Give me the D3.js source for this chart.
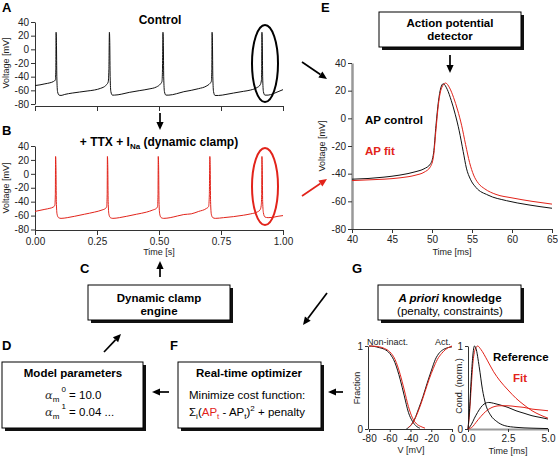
<!DOCTYPE html>
<html><head><meta charset="utf-8">
<script src="https://cdn.jsdelivr.net/npm/d3@7"></script>
<style>
html,body{margin:0;padding:0;background:#fff;}
svg{font-family:"Liberation Sans",Arial,Helvetica,sans-serif;}
</style></head>
<body>
<svg id="fig" width="558" height="458"></svg>
<script>
// ---------- DATA ----------
const timeTicksS = [0, 0.25, 0.5, 0.75, 1.0];
const voltTicks = [40, 20, 0, -20, -40, -60, -80];
const apTimeTicks = [40, 45, 50, 55, 60, 65];
const fracVTicks = [-80, -60, -40, -20, 0];
const fracTicks = [0, 1];
const condTimeTicks = [0, 2.5, 5];

// Panel A: control recording (time s, voltage mV)
const traceControl = [[0,-53],[0.02,-52],[0.04,-50.5],[0.06,-49],[0.075,-47],[0.082,-45],[0.084,-30],[0.085,25],[0.0865,10],[0.088,-40],[0.091,-62],[0.097,-67],[0.105,-67.5],[0.12,-66],[0.15,-64],[0.18,-62.5],[0.21,-61],[0.24,-59.5],[0.265,-57],[0.285,-53],[0.295,-48],[0.298,-30],[0.300,25],[0.3015,10],[0.303,-40],[0.306,-62],[0.312,-67],[0.32,-67],[0.35,-65.5],[0.38,-63],[0.42,-60.5],[0.46,-58],[0.49,-55],[0.505,-51],[0.512,-47],[0.514,-30],[0.516,25],[0.5175,10],[0.519,-40],[0.522,-62],[0.528,-67],[0.54,-67],[0.57,-65],[0.6,-62],[0.63,-60],[0.66,-57.5],[0.69,-54],[0.705,-50],[0.711,-47],[0.713,-30],[0.714,25],[0.7155,10],[0.717,-40],[0.72,-62],[0.726,-67.5],[0.74,-67.5],[0.77,-66],[0.8,-64],[0.84,-61.5],[0.87,-59.5],[0.895,-56],[0.908,-52],[0.913,-45],[0.914,-30],[0.915,25],[0.9165,10],[0.918,-40],[0.921,-62],[0.927,-67],[0.94,-67],[0.96,-65],[0.98,-62],[1.0,-59]];

// Panel B: TTX + dynamic clamp INa
const traceDynClamp = [[0,-54],[0.02,-52.5],[0.04,-51],[0.06,-49.5],[0.075,-47.5],[0.080,-45],[0.082,-30],[0.083,25],[0.0845,10],[0.086,-40],[0.089,-58],[0.095,-63],[0.105,-64],[0.13,-63],[0.16,-61],[0.2,-58],[0.24,-55],[0.27,-52],[0.285,-49.5],[0.289,-47],[0.291,-30],[0.292,25],[0.2935,10],[0.295,-40],[0.298,-58],[0.304,-63],[0.314,-64],[0.34,-63],[0.37,-61],[0.41,-58],[0.45,-55],[0.475,-52],[0.49,-49.5],[0.494,-47],[0.496,-30],[0.497,25],[0.4985,10],[0.500,-40],[0.503,-58],[0.509,-63],[0.519,-64],[0.545,-63],[0.575,-60.5],[0.6,-58.5],[0.63,-57.5],[0.66,-54],[0.69,-50],[0.700,-47],[0.703,-30],[0.705,25],[0.7065,10],[0.708,-40],[0.711,-58],[0.717,-63],[0.727,-64],[0.76,-63],[0.8,-61.5],[0.84,-59.5],[0.87,-57.5],[0.895,-55],[0.907,-52],[0.912,-46],[0.914,-30],[0.915,25],[0.9165,10],[0.918,-40],[0.921,-56],[0.927,-62],[0.94,-63],[0.96,-62.5],[0.98,-61],[1.0,-60]];

// Panel E: single action potentials (time ms, voltage mV)
const apControl = [[40,-44],[42,-43.5],[44,-42.5],[46,-41],[48,-38.5],[49,-36.5],[49.8,-33],[50.2,-25],[50.5,-5],[50.8,12],[51.1,22],[51.4,25],[51.9,21],[52.4,13],[52.9,3],[53.4,-9],[53.9,-24],[54.3,-36],[54.8,-44],[55.5,-50],[57,-55.5],[59.3,-59.5],[62,-62.5],[65,-65]];
const apFit = [[40,-45],[42,-44.5],[44,-44],[46,-43],[48,-41],[49,-39],[49.8,-35],[50.2,-27],[50.5,-8],[50.8,10],[51.2,22],[51.7,25.5],[52.2,22],[52.7,15],[53.2,6],[53.7,-5],[54.2,-19],[54.7,-32],[55.2,-41],[55.8,-47],[56.6,-51],[58,-55],[60,-57.5],[62.5,-60],[65,-62]];

// Panel G: steady-state curves (V mV, fraction)
const nonInactRef = [[-80,1],[-75,0.995],[-70,0.98],[-65,0.96],[-60,0.91],[-55,0.8],[-50,0.6],[-46,0.4],[-42,0.2],[-38,0.09],[-34,0.03],[-31,0.01]];
const nonInactFit = [[-80,1],[-75,0.997],[-70,0.99],[-65,0.97],[-60,0.93],[-55,0.84],[-50,0.66],[-46,0.47],[-42,0.27],[-38,0.13],[-34,0.06],[-30,0.03],[-26,0.01]];
const actRef = [[-44,0],[-40,0.04],[-36,0.12],[-32,0.25],[-28,0.39],[-24,0.55],[-20,0.7],[-16,0.84],[-12,0.92],[-8,0.96],[-4,0.98],[0,0.99]];
const actFit = [[-42,0.02],[-38,0.07],[-34,0.17],[-30,0.3],[-26,0.45],[-22,0.6],[-18,0.73],[-14,0.84],[-10,0.91],[-6,0.96],[-2,0.99],[0,1.0]];

// Panel G: normalized conductance time courses (ms, norm.)
const condRefFast = [[0,0],[0.1,0.25],[0.2,0.6],[0.3,0.88],[0.4,1.0],[0.5,0.97],[0.7,0.75],[0.9,0.48],[1.1,0.3],[1.4,0.17],[1.8,0.09],[2.3,0.04],[3,0.02],[4,0.01],[5,0.005]];
const condFitFast = [[0,0],[0.1,0.2],[0.2,0.5],[0.3,0.78],[0.45,0.96],[0.6,1.0],[0.8,0.96],[1.2,0.83],[1.6,0.69],[2.0,0.58],[2.5,0.47],[3,0.37],[3.5,0.29],[4,0.22],[4.5,0.17],[5,0.13]];
const condRefSlow = [[0,0],[0.2,0.05],[0.4,0.13],[0.6,0.2],[0.8,0.26],[1.0,0.3],[1.3,0.32],[1.6,0.31],[2,0.29],[2.5,0.26],[3,0.22],[3.5,0.19],[4,0.16],[4.5,0.14],[5,0.12]];
const condFitSlow = [[0,0],[0.3,0.03],[0.5,0.08],[0.8,0.15],[1.1,0.21],[1.5,0.26],[2.0,0.28],[2.5,0.28],[3,0.27],[3.5,0.26],[4,0.24],[4.5,0.23],[5,0.22]];

// ---------- DRAWING ----------
const RED = "#e2231a";
const svg = d3.select("#fig");
const hyph = f => (d => f(d).replace("\u2212","-"));

const xA = d3.scaleLinear([0,1],[35,283]);
const yA = d3.scaleLinear([-80,40],[104,22]);
const yB = d3.scaleLinear([-80,40],[229.5,146]);
const xE = d3.scaleLinear([40,65],[352,552]);
const yE = d3.scaleLinear([-80,40],[229,63]);
const xFr = d3.scaleLinear([-80,0],[369,452]);
const yFr = d3.scaleLinear([0,1],[429,346]);
const xCo = d3.scaleLinear([0,5],[468,548]);
const yCo = d3.scaleLinear([0,1],[429,346]);

function styleAxis(g, fs){
  g.selectAll("path.domain").attr("stroke","#333").attr("stroke-width",1);
  g.selectAll(".tick line").attr("stroke","#333");
  g.selectAll(".tick text").attr("fill","#222").attr("font-size",fs||10).attr("font-family","Liberation Sans, Arial, sans-serif");
}
function line(x,y,curve){
  return d3.line().x(d=>x(d[0])).y(d=>y(d[1])).curve(curve||d3.curveMonotoneX);
}
function drawPath(data,x,y,color,w){
  svg.append("path").datum(data).attr("d",line(x,y)).attr("fill","none")
    .attr("stroke",color).attr("stroke-width",w||1).attr("stroke-linejoin","round");
}
function text(x,y,s,opt){
  opt=opt||{};
  const t=svg.append("text").attr("x",x).attr("y",y).text(s)
    .attr("font-size",opt.size||11).attr("fill",opt.fill||"#000")
    .attr("font-weight",opt.bold?"bold":"normal")
    .attr("text-anchor",opt.anchor||"start");
  if(opt.italic) t.attr("font-style","italic");
  if(opt.rotate) t.attr("transform",`rotate(-90,${x},${y})`);
  return t;
}
function arrow(x1,y1,x2,y2,color){
  color=color||"#000";
  const ang=Math.atan2(y2-y1,x2-x1), L=8, Wd=3.6;
  const bx=x2-L*Math.cos(ang), by=y2-L*Math.sin(ang);
  svg.append("line").attr("x1",x1).attr("y1",y1).attr("x2",bx).attr("y2",by)
    .attr("stroke",color).attr("stroke-width",1.7);
  const px=-Math.sin(ang)*Wd, py=Math.cos(ang)*Wd;
  svg.append("polygon").attr("points",`${x2},${y2} ${bx+px},${by+py} ${bx-px},${by-py}`).attr("fill",color);
}
function box(x,y,w,h){
  svg.append("rect").attr("x",x+3).attr("y",y+3).attr("width",w).attr("height",h).attr("fill","#111");
  svg.append("rect").attr("x",x).attr("y",y).attr("width",w).attr("height",h).attr("fill","#fff").attr("stroke","#000").attr("stroke-width",1);
}

// Panel letters
[["A",2,12],["B",2,135],["C",80,273],["D",2,350],["E",321,12],["F",170,350],["G",352,273]].forEach(d=>text(d[1],d[2],d[0],{bold:true,size:13}));

// ----- Panel A -----
svg.append("g").attr("transform","translate(35,0)").call(d3.axisLeft(yA).tickValues(voltTicks).tickFormat(hyph(d3.format("d"))).tickSize(4).tickSizeOuter(0).tickPadding(2)).call(styleAxis);
svg.append("g").attr("transform","translate(0,106)").call(d3.axisBottom(xA).tickValues(timeTicksS).tickFormat("").tickSize(5).tickSizeOuter(0)).call(styleAxis);
drawPath(traceControl,xA,yA,"#111",1);
text(9,63,"Voltage [mV]",{size:9,anchor:"middle",rotate:true,fill:"#222"});
text(160,24,"Control",{bold:true,size:12,anchor:"middle"});
svg.append("ellipse").attr("cx",265).attr("cy",63.5).attr("rx",13).attr("ry",38.5).attr("fill","none").attr("stroke","#000").attr("stroke-width",2);
arrow(160,113,160,130);

// ----- Panel B -----
svg.append("g").attr("transform","translate(35,0)").call(d3.axisLeft(yB).tickValues(voltTicks).tickFormat(hyph(d3.format("d"))).tickSize(4).tickSizeOuter(0).tickPadding(2)).call(styleAxis);
svg.append("g").attr("transform","translate(0,230)").call(d3.axisBottom(xA).tickValues(timeTicksS).tickFormat(d3.format(".2f")).tickSize(5).tickSizeOuter(0).tickPadding(3)).call(styleAxis);
drawPath(traceDynClamp,xA,yB,RED,1);
text(9,188,"Voltage [mV]",{size:9,anchor:"middle",rotate:true,fill:"#222"});
text(159,255,"Time [s]",{size:9,anchor:"middle",fill:"#222"});
{
  const t=svg.append("text").attr("x",159).attr("y",146).attr("text-anchor","middle").attr("font-size",12).attr("font-weight","bold");
  t.append("tspan").text("+ TTX + I");
  t.append("tspan").attr("dy",3).attr("font-size",8).text("Na");
  t.append("tspan").attr("dy",-3).text(" (dynamic clamp)");
}
svg.append("ellipse").attr("cx",265).attr("cy",186.5).attr("rx",13).attr("ry",38.5).attr("fill","none").attr("stroke",RED).attr("stroke-width",2);

// ----- Panel E -----
box(379,12,142,35);
text(450,27,"Action potential",{bold:true,size:11.5,anchor:"middle"});
text(450,40,"detector",{bold:true,size:11.5,anchor:"middle"});
arrow(450,55,450,73);
{
  const gy=svg.append("g").attr("transform","translate(352,0)").call(d3.axisLeft(yE).tickValues(voltTicks).tickFormat(hyph(d3.format("d"))).tickSize(4).tickSizeOuter(0).tickPadding(2)).call(styleAxis);
  gy.select("path.domain").attr("stroke","#999").attr("stroke-width",2.5);
  svg.append("g").attr("transform","translate(0,229)").call(d3.axisBottom(xE).tickValues(apTimeTicks).tickSize(4).tickSizeOuter(0).tickPadding(3)).call(styleAxis);
}
drawPath(apControl,xE,yE,"#111",1);
drawPath(apFit,xE,yE,RED,1);
text(325,146,"Voltage [mV]",{size:9,anchor:"middle",rotate:true,fill:"#222"});
text(452,255,"Time [ms]",{size:9,anchor:"middle",fill:"#222"});
text(365,124,"AP control",{bold:true,size:11.5});
text(365,155,"AP fit",{bold:true,size:11.5,fill:RED});
arrow(302,62,327,79,"#000");
arrow(302,196,327,179,RED);

// ----- Panel C -----
arrow(160,277,160,261);
box(88,285,142,35);
text(159,302,"Dynamic clamp",{bold:true,size:11.5,anchor:"middle"});
text(159,315,"engine",{bold:true,size:11.5,anchor:"middle"});

// ----- Panel G box -----
box(378,285,143,35);
{
  const t=svg.append("text").attr("x",450).attr("y",302).attr("text-anchor","middle").attr("font-size",11.5).attr("font-weight","bold");
  t.append("tspan").attr("font-style","italic").text("A priori");
  t.append("tspan").text(" knowledge");
}
text(450,315,"(penalty, constraints)",{size:11.5,anchor:"middle"});
arrow(327,293,303,325);

// ----- Panel D -----
arrow(104,352,121,334);
box(2,362,141,66);
text(73,377,"Model parameters",{bold:true,size:11.5,anchor:"middle"});
function alphaLine(y,sup,rest){
  const t=svg.append("text").attr("x",45).attr("y",y).attr("font-size",11.5);
  t.append("tspan").attr("font-family","DejaVu Serif, serif").attr("font-style","italic").attr("fill","#333").text("α");
  t.append("tspan").attr("dy",3).attr("font-size",8).text("m");
  t.append("tspan").attr("dy",-10).attr("dx",2).attr("font-size",8).text(sup);
  t.append("tspan").attr("dy",7).text(rest);
}
alphaLine(399,"0"," = 10.0");
alphaLine(416,"1"," = 0.04 ...");
arrow(169,392,152,392);

// ----- Panel F -----
box(178,362,143,66);
text(249,377,"Real-time optimizer",{bold:true,size:11.5,anchor:"middle"});
text(189,399,"Minimize cost function:",{size:11.5});
{
  const t=svg.append("text").attr("x",189).attr("y",416).attr("font-size",11.5);
  t.append("tspan").text("Σ");
  t.append("tspan").attr("dy",3).attr("font-size",8).text("i");
  t.append("tspan").attr("dy",-3).text("(");
  t.append("tspan").attr("fill",RED).text("AP");
  t.append("tspan").attr("dy",3).attr("font-size",8).attr("fill",RED).text("t");
  t.append("tspan").attr("dy",-3).text(" - AP");
  t.append("tspan").attr("dy",3).attr("font-size",8).text("t");
  t.append("tspan").attr("dy",-3).text(")");
  t.append("tspan").attr("dy",-5).attr("font-size",8).text("2");
  t.append("tspan").attr("dy",5).text(" + penalty");
}
arrow(343,392,328,392);

// ----- Panel G graphs -----
svg.append("g").attr("transform","translate(368,0)").call(d3.axisLeft(yFr).tickValues(fracTicks).tickFormat(d3.format("d")).tickSize(3).tickSizeOuter(0).tickPadding(2)).call(styleAxis);
svg.append("g").attr("transform","translate(0,429)").call(d3.axisBottom(xFr).tickValues(fracVTicks).tickFormat(hyph(d3.format("d"))).tickSize(3).tickSizeOuter(0).tickPadding(3)).call(styleAxis);
drawPath(nonInactRef,xFr,yFr,"#111",1);
drawPath(nonInactFit,xFr,yFr,RED,1);
drawPath(actRef,xFr,yFr,"#111",1);
drawPath(actFit,xFr,yFr,RED,1);
text(360,388,"Fraction",{size:9,anchor:"middle",rotate:true,fill:"#222"});
text(411,453,"V [mV]",{size:9,anchor:"middle",fill:"#222"});
text(367,345,"Non-inact.",{size:9,fill:"#222"});
text(435,345,"Act.",{size:9,fill:"#222"});

{
  svg.append("g").attr("transform","translate(468,0)").call(d3.axisLeft(yCo).tickValues(fracTicks).tickFormat(d3.format("d")).tickSize(3).tickSizeOuter(0).tickPadding(2)).call(styleAxis);
  const gx=svg.append("g").attr("transform","translate(0,429)").call(d3.axisBottom(xCo).tickValues(condTimeTicks).tickFormat(d3.format(".1f")).tickSize(3).tickSizeOuter(0).tickPadding(3)).call(styleAxis);
  gx.select("path.domain").attr("stroke","#999").attr("stroke-width",2);
}
drawPath(condRefSlow,xCo,yCo,"#111",1);
drawPath(condFitSlow,xCo,yCo,RED,1);
drawPath(condFitFast,xCo,yCo,RED,1);
drawPath(condRefFast,xCo,yCo,"#111",1);
text(462,386,"Cond. (norm.)",{size:9,anchor:"middle",rotate:true,fill:"#222"});
text(508,454,"Time [ms]",{size:9,anchor:"middle",fill:"#222"});
text(493,361,"Reference",{bold:true,size:11.5});
text(513,382,"Fit",{bold:true,size:11.5,fill:RED});
</script>
</body></html>
